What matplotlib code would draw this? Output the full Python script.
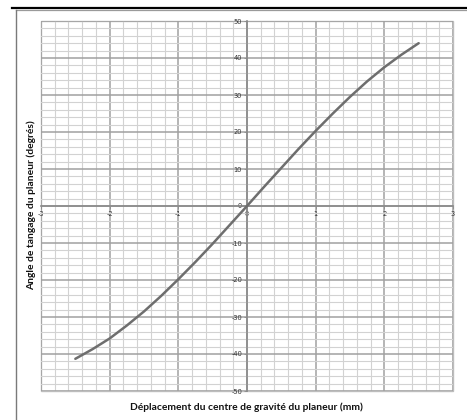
import matplotlib
matplotlib.use("Agg")
import matplotlib.pyplot as plt
from matplotlib.ticker import MultipleLocator
from matplotlib.patches import Rectangle
from matplotlib.lines import Line2D

plt.rcParams["axes.unicode_minus"] = False

# Data
deplacement = [-2.5, -2.25, -2.0, -1.75, -1.5, -1.25, -1.0, -0.75, -0.5, -0.25,
               0.0, 0.25, 0.5, 0.75, 1.0, 1.25, 1.5, 1.75, 2.0, 2.25, 2.5]
angle = [-41.3, -38.7, -35.8, -32.3, -28.5, -24.3, -19.8, -15.1, -10.2, -5.1,
         0.0, 5.2, 10.3, 15.4, 20.3, 25.0, 29.5, 33.7, 37.5, 40.9, 44.0]
x_ticks = [-3, -2, -1, 0, 1, 2, 3]
y_ticks = [-50, -40, -30, -20, -10, 0, 10, 20, 30, 40, 50]
x_label = "Déplacement du centre de gravité du planeur (mm)"
y_label = "Angle de tangage du planeur (degrés)"

W, H = 467, 420
fig = plt.figure(figsize=(W / 100, H / 100), dpi=100)
fig.patch.set_facecolor("white")

ax = fig.add_axes([41 / W, 1 - 391 / H, 412 / W, 370 / H])
ax.set_xlim(-3, 3)
ax.set_ylim(-50, 50)

ax.set_xticks(x_ticks)
ax.set_yticks(y_ticks)
ax.xaxis.set_minor_locator(MultipleLocator(0.2))
ax.yaxis.set_minor_locator(MultipleLocator(2))

ax.grid(which="minor", color="#d2d2d2", linewidth=0.8)
ax.grid(which="major", color="#a0a0a0", linewidth=1.1)
ax.set_axisbelow(True)

for s in ["top", "right"]:
    ax.spines[s].set_visible(False)
ax.spines["left"].set_position(("data", 0))
ax.spines["bottom"].set_position(("data", 0))
for s in ["left", "bottom"]:
    ax.spines[s].set_color("#8a8a8a")
    ax.spines[s].set_linewidth(1.2)
    ax.spines[s].set_zorder(1.5)

ax.tick_params(which="major", length=2, width=0.6, color="#8a8a8a",
               labelsize=4.8, labelcolor="#333333", pad=1.5)
ax.tick_params(which="minor", length=0)

# outer border of plot area
ax.add_patch(Rectangle((0, 0), 1, 1, transform=ax.transAxes, fill=False,
                       edgecolor="#bdbdbd", linewidth=1.0, clip_on=False, zorder=0.5))

ax.plot(deplacement, angle, color="#6e6e6e", linewidth=1.8, solid_capstyle="round", zorder=3)

fig.text(246 / W, 1 - 407 / H, x_label, ha="center", va="center",
         fontsize=7.4, fontweight="bold", family="Lato", color="#111111")
fig.text(31 / W, 1 - 205 / H, y_label, ha="center", va="center", rotation=90,
         fontsize=7.4, fontweight="bold", family="Lato", color="#111111")

# frame lines
fig.add_artist(Line2D([12 / W, 1], [1 - 7.5 / H, 1 - 7.5 / H], color="black", linewidth=1.6))
fig.add_artist(Line2D([16 / W, 1], [1 - 10.2 / H, 1 - 10.2 / H], color="#9a9a9a", linewidth=0.9))
fig.add_artist(Line2D([16 / W, 16 / W], [0, 1 - 10 / H], color="#7a7a7a", linewidth=1.0))

fig.savefig("out.png", dpi=100, facecolor="white")
